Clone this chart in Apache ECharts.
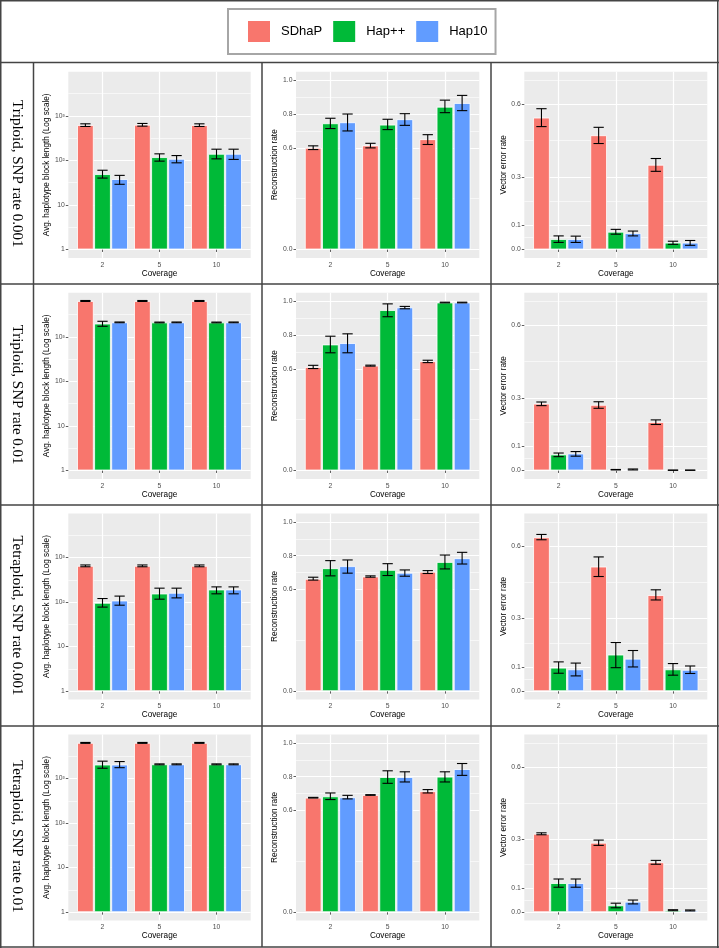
<!DOCTYPE html>
<html><head><meta charset="utf-8">
<script src="https://cdn.jsdelivr.net/npm/echarts@6/dist/echarts.min.js"></script>
<style>html,body{margin:0;padding:0;background:#fff}#c{width:719px;height:948px}</style>
</head><body><div id="c"></div><script>
// ---------- categories / labels ----------
const coverage = ['2', '5', '10'];
const methods = ['SDhaP', 'Hap++', 'Hap10'];
const methodColors = ['#F8766D', '#00BA38', '#619CFF'];
const rowLabels = ['Triploid, SNP rate 0.001', 'Triploid, SNP rate 0.01', 'Tetraploid, SNP rate 0.001', 'Tetraploid, SNP rate 0.01'];
const metricTitles = ['Avg. haplotype block length (Log scale)', 'Reconstruction rate', 'Vector error rate'];

// ---------- tick labels / breaks ----------
const blockTicks = [1, 10, 100, 1000];
const blockTickLabels = ['1', '10', '10²', '10³'];
const blockMinorTicks = [3.162, 31.62, 316.2, 3162];
const blockLimits = [0.646, 9772];
const reconTicks = [0, 0.6, 0.8, 1.0];
const reconMinorTicks = [0.3, 0.7, 0.9];
const reconLimits = [-0.05, 1.05];
const vecTicks = [0, 0.1, 0.3, 0.6];
const vecMinorTicks = [0.05, 0.2, 0.45, 0.7];
const vecLimits = [-0.035, 0.735];

// ---------- data: [SDhaP, Hap++, Hap10] x coverage [2,5,10] ----------
// Row 1: Triploid, SNP rate 0.001
const tri001_block_mean = [[617, 628, 617], [49, 118, 140], [38, 108, 140]];
const tri001_block_lo   = [[576, 586, 576], [40, 96, 108], [29, 88, 105]];
const tri001_block_hi   = [[661, 673, 661], [60, 140, 178], [46, 128, 178]];
const tri001_recon_mean = [[0.600, 0.614, 0.651], [0.745, 0.737, 0.843], [0.751, 0.769, 0.865]];
const tri001_recon_lo   = [[0.590, 0.600, 0.620], [0.714, 0.708, 0.808], [0.700, 0.733, 0.820]];
const tri001_recon_hi   = [[0.612, 0.627, 0.678], [0.775, 0.769, 0.882], [0.800, 0.802, 0.910]];
const tri001_vec_mean   = [[0.545, 0.472, 0.350], [0.043, 0.073, 0.028], [0.043, 0.067, 0.028]];
const tri001_vec_lo     = [[0.508, 0.438, 0.323], [0.029, 0.063, 0.021], [0.029, 0.056, 0.017]];
const tri001_vec_hi     = [[0.582, 0.505, 0.376], [0.056, 0.083, 0.034], [0.055, 0.076, 0.037]];
// Row 2: Triploid, SNP rate 0.01
const tri01_block_mean = [[6370, 6370, 6370], [1977, 2100, 2100], [2110, 2110, 2110]];
const tri01_block_lo   = [[6210, 6210, 6210], [1722, 2060, 2060], [2070, 2070, 2070]];
const tri01_block_hi   = [[6530, 6530, 6530], [2230, 2140, 2140], [2150, 2150, 2150]];
const tri01_recon_mean = [[0.611, 0.619, 0.645], [0.744, 0.947, 0.992], [0.752, 0.963, 0.992]];
const tri01_recon_lo   = [[0.602, 0.616, 0.637], [0.695, 0.908, 0.990], [0.695, 0.955, 0.990]];
const tri01_recon_hi   = [[0.621, 0.622, 0.651], [0.793, 0.984, 0.994], [0.807, 0.969, 0.994]];
const tri01_vec_mean   = [[0.276, 0.271, 0.200], [0.066, 0.003, 0.001], [0.070, 0.004, 0.001]];
const tri01_vec_lo     = [[0.268, 0.257, 0.190], [0.057, 0.002, 0.0005], [0.059, 0.002, 0.0005]];
const tri01_vec_hi     = [[0.283, 0.284, 0.209], [0.072, 0.004, 0.0015], [0.078, 0.006, 0.0015]];
// Row 3: Tetraploid, SNP rate 0.001
const tet001_block_mean = [[649, 649, 649], [96, 155, 191], [108, 161, 191]];
const tet001_block_lo   = [[620, 620, 620], [77, 116, 153], [85, 124, 153]];
const tet001_block_hi   = [[680, 680, 680], [120, 205, 219], [136, 205, 219]];
const tet001_recon_mean = [[0.663, 0.677, 0.705], [0.726, 0.716, 0.763], [0.738, 0.699, 0.785]];
const tet001_recon_lo   = [[0.656, 0.673, 0.695], [0.681, 0.683, 0.722], [0.697, 0.679, 0.751]];
const tet001_recon_hi   = [[0.673, 0.681, 0.712], [0.771, 0.753, 0.804], [0.775, 0.716, 0.820]];
const tet001_vec_mean   = [[0.636, 0.515, 0.397], [0.097, 0.151, 0.090], [0.090, 0.134, 0.088]];
const tet001_vec_lo     = [[0.626, 0.474, 0.377], [0.074, 0.097, 0.066], [0.063, 0.100, 0.073]];
const tet001_vec_hi     = [[0.648, 0.555, 0.419], [0.121, 0.201, 0.114], [0.116, 0.168, 0.104]];
// Row 4: Tetraploid, SNP rate 0.01
const tet01_block_mean = [[6300, 6300, 6300], [2050, 2080, 2080], [2050, 2080, 2080]];
const tet01_block_lo   = [[6150, 6150, 6150], [1700, 2030, 2030], [1750, 2030, 2030]];
const tet01_block_hi   = [[6450, 6450, 6450], [2450, 2130, 2130], [2400, 2130, 2130]];
const tet01_recon_mean = [[0.676, 0.692, 0.714], [0.684, 0.798, 0.800], [0.678, 0.798, 0.845]];
const tet01_recon_lo   = [[0.674, 0.690, 0.704], [0.665, 0.761, 0.769], [0.669, 0.769, 0.808]];
const tet01_recon_hi   = [[0.678, 0.694, 0.724], [0.704, 0.835, 0.829], [0.690, 0.829, 0.878]];
const tet01_vec_mean   = [[0.324, 0.287, 0.206], [0.120, 0.028, 0.008], [0.120, 0.043, 0.007]];
const tet01_vec_lo     = [[0.320, 0.276, 0.198], [0.103, 0.018, 0.006], [0.103, 0.034, 0.005]];
const tet01_vec_hi     = [[0.328, 0.298, 0.214], [0.137, 0.037, 0.010], [0.137, 0.050, 0.009]];

// ---------- assemble ----------
const panelData = [
  [[tri001_block_mean, tri001_block_lo, tri001_block_hi], [tri001_recon_mean, tri001_recon_lo, tri001_recon_hi], [tri001_vec_mean, tri001_vec_lo, tri001_vec_hi]],
  [[tri01_block_mean, tri01_block_lo, tri01_block_hi], [tri01_recon_mean, tri01_recon_lo, tri01_recon_hi], [tri01_vec_mean, tri01_vec_lo, tri01_vec_hi]],
  [[tet001_block_mean, tet001_block_lo, tet001_block_hi], [tet001_recon_mean, tet001_recon_lo, tet001_recon_hi], [tet001_vec_mean, tet001_vec_lo, tet001_vec_hi]],
  [[tet01_block_mean, tet01_block_lo, tet01_block_hi], [tet01_recon_mean, tet01_recon_lo, tet01_recon_hi], [tet01_vec_mean, tet01_vec_lo, tet01_vec_hi]]
];

const FONT = '"Liberation Sans", Arial, Helvetica, sans-serif';
const rowTop = [63.3, 284.3, 505, 726, 947];
const colLeft = [68.3, 296, 524.3];
const colWidth = [182.4, 183.3, 183];
const dodge = [-0.3, 0, 0.3];

const log10 = v => Math.log10(v);
const ident = v => v;
const colCfg = [
  { f: log10, ticks: blockTicks.map(log10), minor: blockMinorTicks.map(log10), lim: blockLimits.map(log10),
    fmt: v => blockTickLabels[Math.round(v)] },
  { f: ident, ticks: reconTicks, minor: reconMinorTicks, lim: reconLimits, fmt: v => v.toFixed(1) },
  { f: ident, ticks: vecTicks, minor: vecMinorTicks, lim: vecLimits, fmt: v => v.toFixed(1) }
];

function renderErr(params, api) {
  const x = api.value(0), lo = api.value(1), hi = api.value(2);
  const pLo = api.coord([x, lo]), pHi = api.coord([x, hi]);
  const hw = api.size([0.09, 0])[0];
  const st = { stroke: '#000', lineWidth: 1.1 };
  return { type: 'group', children: [
    { type: 'line', shape: { x1: pHi[0] - hw, y1: pHi[1], x2: pHi[0] + hw, y2: pHi[1] }, style: st },
    { type: 'line', shape: { x1: pLo[0] - hw, y1: pLo[1], x2: pLo[0] + hw, y2: pLo[1] }, style: st },
    { type: 'line', shape: { x1: pHi[0], y1: pHi[1], x2: pLo[0], y2: pLo[1] }, style: st }
  ]};
}

const grids = [], xAxes = [], yAxes = [], series = [], graphics = [];
for (let r = 0; r < 4; r++) {
  for (let c = 0; c < 3; c++) {
    const g = r * 3 + c;
    const cfg = colCfg[c];
    const [mean, lo, hi] = panelData[r][c];
    grids.push({ left: colLeft[c], width: colWidth[c], top: rowTop[r] + 8.4, height: 186.2,
      show: true, backgroundColor: '#EBEBEB', borderWidth: 0 });
    xAxes.push({ gridIndex: g, type: 'value', min: 0.4, max: 3.6,
      name: 'Coverage', nameLocation: 'middle', nameGap: 10,
      nameTextStyle: { fontSize: 8.2, color: '#000', fontFamily: FONT },
      axisLine: { show: false },
      axisTick: { show: true, length: 2.5, customValues: [1, 2, 3], lineStyle: { color: '#333', width: 0.8 } },
      axisLabel: { customValues: [1, 2, 3], formatter: v => coverage[Math.round(v) - 1],
        fontSize: 6.8, color: '#4D4D4D', margin: 3.5, fontFamily: FONT },
      splitLine: { show: true, lineStyle: { color: '#fff', width: 1.2 } } });
    yAxes.push({ gridIndex: g, type: 'value', min: cfg.lim[0], max: cfg.lim[1], position: 'left',
      name: metricTitles[c], nameLocation: 'middle', nameGap: 15.5,
      nameTextStyle: { fontSize: 8.2, color: '#000', fontFamily: FONT },
      axisLine: { show: false },
      axisTick: { show: true, length: 2.5, customValues: cfg.ticks, lineStyle: { color: '#333', width: 0.8 } },
      axisLabel: { customValues: cfg.ticks, formatter: cfg.fmt, fontSize: 6.8, color: '#4D4D4D', margin: 3.5, fontFamily: FONT },
      splitLine: { show: true, lineStyle: { color: '#fff', width: 1.2 } } });
    yAxes.push({ gridIndex: g, type: 'value', min: cfg.lim[0], max: cfg.lim[1], position: 'left',
      axisLine: { show: false }, axisLabel: { show: false },
      axisTick: { show: false, customValues: cfg.minor },
      splitLine: { show: true, lineStyle: { color: '#fff', width: 0.6 } } });
    const errData = [];
    for (let m = 0; m < 3; m++) {
      series.push({ type: 'bar', name: methods[m], xAxisIndex: g, yAxisIndex: 2 * g,
        barWidth: 16.6, barGap: '-100%',
        itemStyle: { color: methodColors[m], borderColor: '#fff', borderWidth: 0.8 },
        emphasis: { disabled: true }, silent: true,
        data: coverage.map((_, k) => [k + 1 + dodge[m], cfg.f(mean[m][k])]) });
      coverage.forEach((_, k) => errData.push([k + 1 + dodge[m], cfg.f(lo[m][k]), cfg.f(hi[m][k])]));
    }
    series.push({ type: 'custom', xAxisIndex: g, yAxisIndex: 2 * g, z: 5, silent: true,
      renderItem: renderErr, encode: { x: 0, y: [1, 2] }, data: errData });
  }
  graphics.push({ type: 'text', x: 17, y: (rowTop[r] + rowTop[r + 1]) / 2, rotation: -Math.PI / 2,
    style: { text: rowLabels[r], font: '15px "Liberation Serif", "Times New Roman", serif', fill: '#000',
      align: 'center', verticalAlign: 'middle', textAlign: 'center', textVerticalAlign: 'middle' } });
}

// table frame
const lineStyle = { stroke: '#444', lineWidth: 1.5 };
[0.75, 62.5, 284, 505, 726, 947].forEach(y => graphics.push({ type: 'line', shape: { x1: 0, y1: y, x2: 719, y2: y }, style: lineStyle, silent: true }));
[0.75, 717.75].forEach(x => graphics.push({ type: 'line', shape: { x1: x, y1: 0, x2: x, y2: 948 }, style: lineStyle, silent: true }));
[33.5, 262, 491].forEach(x => graphics.push({ type: 'line', shape: { x1: x, y1: 62.5, x2: x, y2: 947 }, style: lineStyle, silent: true }));

const option = {
  animation: false,
  textStyle: { fontFamily: FONT },
  legend: { data: methods, left: 228, top: 9, orient: 'horizontal', icon: 'rect',
    itemWidth: 24, itemHeight: 23, itemGap: 9, padding: [10, 8, 10, 18],
    borderColor: '#A6A6A6', borderWidth: 2,
    textStyle: { fontSize: 13, color: '#000', fontFamily: FONT, padding: [0, 0, 0, 5] } },
  grid: grids, xAxis: xAxes, yAxis: yAxes, series: series, graphic: graphics
};
const chart = echarts.init(document.getElementById('c'), null, { renderer: 'canvas' });
chart.setOption(option);
</script></body></html>
